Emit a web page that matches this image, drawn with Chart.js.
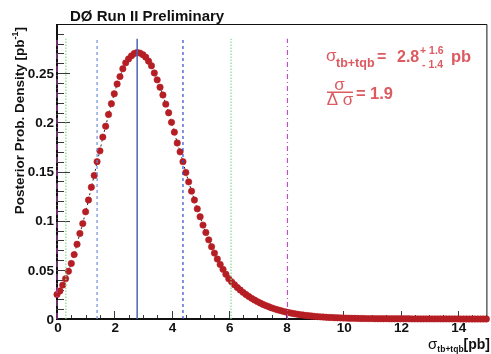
<!DOCTYPE html>
<html>
<head>
<meta charset="utf-8">
<script src="https://cdn.jsdelivr.net/npm/chart.js@4/dist/chart.umd.min.js"></script>
<style>
  html, body { margin: 0; padding: 0; background: #fff; }
  #wrap { width: 491px; height: 354px; position: relative; }
</style>
</head>
<body>
<div id="wrap"><canvas id="posterior" width="491" height="354"></canvas></div>
<script>
// cross section grid [pb]
const sigmaValues = [
    0.0, 0.1, 0.2, 0.3, 0.4, 0.5, 0.6, 0.7, 0.8, 0.9,
    1.0, 1.1, 1.2, 1.3, 1.4, 1.5, 1.6, 1.7, 1.8, 1.9,
    2.0, 2.1, 2.2, 2.3, 2.4, 2.5, 2.6, 2.7, 2.8, 2.9,
    3.0, 3.1, 3.2, 3.3, 3.4, 3.5, 3.6, 3.7, 3.8, 3.9,
    4.0, 4.1, 4.2, 4.3, 4.4, 4.5, 4.6, 4.7, 4.8, 4.9,
    5.0, 5.1, 5.2, 5.3, 5.4, 5.5, 5.6, 5.7, 5.8, 5.9,
    6.0, 6.1, 6.2, 6.3, 6.4, 6.5, 6.6, 6.7, 6.8, 6.9,
    7.0, 7.1, 7.2, 7.3, 7.4, 7.5, 7.6, 7.7, 7.8, 7.9,
    8.0, 8.1, 8.2, 8.3, 8.4, 8.5, 8.6, 8.7, 8.8, 8.9,
    9.0, 9.1, 9.2, 9.3, 9.4, 9.5, 9.6, 9.7, 9.8, 9.9,
    10.0, 10.1, 10.2, 10.3, 10.4, 10.5, 10.6, 10.7, 10.8, 10.9,
    11.0, 11.1, 11.2, 11.3, 11.4, 11.5, 11.6, 11.7, 11.8, 11.9,
    12.0, 12.1, 12.2, 12.3, 12.4, 12.5, 12.6, 12.7, 12.8, 12.9,
    13.0, 13.1, 13.2, 13.3, 13.4, 13.5, 13.6, 13.7, 13.8, 13.9,
    14.0, 14.1, 14.2, 14.3, 14.4, 14.5, 14.6, 14.7, 14.8, 14.9,
    15.0
];

// posterior probability density [pb^-1]
const densityValues = [
    0.0250, 0.0285, 0.0345, 0.0410, 0.0485, 0.0565, 0.0655, 0.0760, 0.0870, 0.0970,
    0.1090, 0.1210, 0.1340, 0.1460, 0.1600, 0.1710, 0.1850, 0.1960, 0.2080, 0.2190,
    0.2290, 0.2390, 0.2465, 0.2545, 0.2605, 0.2645, 0.2676, 0.2700, 0.2710, 0.2704,
    0.2688, 0.2663, 0.2622, 0.2575, 0.2502, 0.2432, 0.2357, 0.2278, 0.2185, 0.2097,
    0.2000, 0.1900, 0.1790, 0.1700, 0.1600, 0.1490, 0.1395, 0.1300, 0.1210, 0.1120,
    0.1040, 0.0955, 0.0880, 0.0805, 0.0735, 0.0670, 0.0610, 0.0555, 0.0505, 0.0455,
    0.0410, 0.0378, 0.0348, 0.0320, 0.0295, 0.0271, 0.0249, 0.0229, 0.0210, 0.0193,
    0.0177, 0.0162, 0.0148, 0.0136, 0.0124, 0.0113, 0.0103, 0.0094, 0.0086, 0.0078,
    0.0071, 0.0065, 0.0059, 0.0053, 0.0048, 0.0044, 0.0040, 0.0036, 0.0033, 0.0030,
    0.0027, 0.0024, 0.0022, 0.0020, 0.0018, 0.0016, 0.0015, 0.0013, 0.0012, 0.0011,
    0.0010, 0.0009, 0.0008, 0.0007, 0.0007, 0.0006, 0.0005, 0.0005, 0.0004, 0.0004,
    0.0004, 0.0003, 0.0003, 0.0003, 0.0003, 0.0003, 0.0002, 0.0002, 0.0002, 0.0002,
    0.0002, 0.0002, 0.0002, 0.0002, 0.0001, 0.0001, 0.0001, 0.0001, 0.0001, 0.0001,
    0.0001, 0.0001, 0.0001, 0.0001, 0.0001, 0.0001, 0.0001, 0.0001, 0.0001, 0.0001,
    0.0001, 0.0000, 0.0000, 0.0000, 0.0000, 0.0000, 0.0000, 0.0000, 0.0000, 0.0000,
    0.0000
];

// tick labels
const xTicks = [0, 2, 4, 6, 8, 10, 12, 14];
const yTicks = [0, 0.05, 0.1, 0.15, 0.2, 0.25];

// result: peak and 68% interval, 95% interval edges, 95% upper limit
const sigmaPeak = 2.8;
const sigmaErrUp = 1.6;
const sigmaErrDown = 1.4;
const interval95 = [0.31, 6.08];
const upperLimit95 = 8.05;
const significance = 1.9;
const lineTop = 0.285;

const FONT = "'Liberation Sans', Arial, Helvetica, sans-serif";
const RED_TEXT = '#dc5a60';

function vline(x, color, width, dash) {
    return {
        type: 'line',
        data: [{ x: x, y: 0 }, { x: x, y: lineTop }],
        borderColor: color,
        borderWidth: width,
        borderDash: dash,
        pointRadius: 0,
        fill: false,
        order: 0,
        clip: false
    };
}

// ROOT-like frame, inward ticks and the text labels
const rootStyle = {
    id: 'rootStyle',
    beforeDatasetsDraw(chart) {
        const ctx = chart.ctx;
        const area = chart.chartArea;
        const xs = chart.scales.x;
        const ys = chart.scales.y;
        ctx.save();
        ctx.strokeStyle = '#3a3a3a';
        ctx.lineWidth = 1;
        // y ticks: major every 0.05, minor every 0.01
        for (let i = 0; i <= 30; i++) {
            const py = Math.round(ys.getPixelForValue(i / 100)) + 0.5;
            const len = i % 5 === 0 ? 13 : 7;
            ctx.beginPath();
            ctx.moveTo(area.left, py);
            ctx.lineTo(area.left + len, py);
            ctx.stroke();
        }
        // x ticks: major every 2, minor every 0.5
        for (let i = 0; i <= 30; i++) {
            const px = Math.round(xs.getPixelForValue(i / 2)) + 0.5;
            const len = i % 4 === 0 ? 8 : 4;
            ctx.beginPath();
            ctx.moveTo(px, area.bottom);
            ctx.lineTo(px, area.bottom - len);
            ctx.stroke();
        }
        // frame
        ctx.strokeStyle = '#111';
        ctx.lineWidth = 1;
        ctx.beginPath();
        ctx.moveTo(area.left, area.top + 0.5);
        ctx.lineTo(area.right + 0.5, area.top + 0.5);
        ctx.lineTo(area.right + 0.5, area.bottom);
        ctx.stroke();
        ctx.lineWidth = 2;
        ctx.beginPath();
        ctx.moveTo(area.left, area.top);
        ctx.lineTo(area.left, area.bottom);
        ctx.lineTo(area.right + 1, area.bottom);
        ctx.stroke();
        ctx.restore();
    },
    afterDraw(chart) {
        const ctx = chart.ctx;
        const area = chart.chartArea;
        const xs = chart.scales.x;
        const ys = chart.scales.y;
        ctx.save();
        ctx.fillStyle = '#111';

        // tick labels
        ctx.font = 'bold 13.5px ' + FONT;
        ctx.textAlign = 'right';
        ctx.textBaseline = 'middle';
        yTicks.forEach(v => {
            ctx.fillText(String(v), area.left - 3, ys.getPixelForValue(v) + 1);
        });
        ctx.textAlign = 'center';
        ctx.textBaseline = 'top';
        xTicks.forEach(v => {
            ctx.fillText(String(v), xs.getPixelForValue(v) + 1, area.bottom + 3);
        });

        // title
        ctx.textAlign = 'left';
        ctx.textBaseline = 'alphabetic';
        ctx.font = 'bold 15px ' + FONT;
        ctx.fillText('D\u00d8 Run II Preliminary', 70, 21);

        // y axis title, right aligned at the top of the axis
        ctx.save();
        ctx.translate(23.5, 27);
        ctx.rotate(-Math.PI / 2);
        const bigY = 'bold 13.5px ' + FONT;
        const supY = 'bold 9px ' + FONT;
        ctx.font = bigY;
        const partA = 'Posterior Prob. Density [pb';
        const wA = ctx.measureText(partA).width;
        const wC = ctx.measureText(']').width;
        ctx.font = supY;
        const wB = ctx.measureText('-1').width;
        let cx = -(wA + wB + wC);
        ctx.font = bigY;
        ctx.fillText(partA, cx, 0);
        cx += wA;
        ctx.font = supY;
        ctx.fillText('-1', cx, -6);
        cx += wB;
        ctx.font = bigY;
        ctx.fillText(']', cx, 0);
        ctx.restore();

        // x axis title, right aligned at the end of the axis
        const sig = '15px ' + FONT;
        const sub = 'bold 8.5px ' + FONT;
        const big = 'bold 14px ' + FONT;
        ctx.font = big;
        const wPb = ctx.measureText('[pb]').width;
        ctx.font = sub;
        const wSub = ctx.measureText('tb+tqb').width;
        ctx.font = sig;
        const wSig = ctx.measureText('\u03c3').width;
        let tx = 490 - wPb - wSub - wSig;
        ctx.fillText('\u03c3', tx, 349);
        tx += wSig;
        ctx.font = sub;
        ctx.fillText('tb+tqb', tx, 352);
        tx += wSub;
        ctx.font = big;
        ctx.fillText('[pb]', tx, 349);

        // result text
        ctx.fillStyle = RED_TEXT;
        ctx.font = '17px ' + FONT;
        ctx.fillText('\u03c3', 326, 61);
        ctx.font = 'bold 12.5px ' + FONT;
        ctx.fillText('tb+tqb', 336, 67);
        ctx.font = 'bold 16px ' + FONT;
        ctx.fillText('=', 377, 62);
        ctx.fillText(sigmaPeak.toFixed(1), 397, 62);
        ctx.font = 'bold 10.5px ' + FONT;
        ctx.fillText('+ ' + sigmaErrUp.toFixed(1), 420, 54);
        ctx.fillText('- ' + sigmaErrDown.toFixed(1), 422, 68);
        ctx.font = 'bold 16.5px ' + FONT;
        ctx.fillText('pb', 451, 62);

        // sigma / delta sigma
        ctx.font = '17px ' + FONT;
        ctx.textAlign = 'center';
        ctx.fillText('\u03c3', 339.5, 90);
        ctx.fillText('\u0394 \u03c3', 340, 105);
        ctx.fillRect(327, 91.5, 26, 1.5);
        ctx.textAlign = 'left';
        ctx.font = 'bold 16.5px ' + FONT;
        ctx.fillText('=', 356, 98.5);
        ctx.fillText(significance.toFixed(1), 370, 98.5);

        ctx.restore();
    }
};

const points = sigmaValues.map((s, i) => ({ x: s, y: densityValues[i] }));

new Chart(document.getElementById('posterior'), {
    type: 'scatter',
    data: {
        datasets: [
            vline(0, '#c04ec4', 1, [6, 3, 1, 3]),
            vline(interval95[0], '#86d98a', 1.2, [1.5, 1.5]),
            vline(interval95[1], '#86d98a', 1.2, [1.5, 1.5]),
            vline(sigmaPeak - sigmaErrDown, '#6e8ed6', 1.2, [3, 3]),
            vline(sigmaPeak + sigmaErrUp, '#2d4cc0', 1.2, [3, 3]),
            vline(sigmaPeak, '#4d64b8', 1.5, []),
            vline(upperLimit95, '#c04ec4', 1.2, [5, 3, 1, 3]),
            {
                type: 'line',
                data: points,
                showLine: true,
                borderColor: '#222',
                borderWidth: 1,
                borderDash: [2, 3],
                pointRadius: 3.2,
                pointBackgroundColor: '#b51e24',
                pointBorderColor: '#b51e24',
                pointBorderWidth: 0.6,
                fill: false,
                order: 1,
                clip: 8
            }
        ]
    },
    options: {
        responsive: false,
        animation: false,
        devicePixelRatio: 1,
        layout: { padding: { top: 24, right: 3, left: 0, bottom: 0 } },
        plugins: {
            legend: { display: false },
            tooltip: { enabled: false },
            title: { display: false }
        },
        scales: {
            x: {
                type: 'linear',
                min: 0,
                max: 15,
                grid: { display: false },
                border: { display: false },
                ticks: { display: false },
                afterFit(scale) { scale.height = 35; }
            },
            y: {
                type: 'linear',
                min: 0,
                max: 0.3,
                grid: { display: false },
                border: { display: false },
                ticks: { display: false },
                afterFit(scale) { scale.width = 57; }
            }
        }
    },
    plugins: [rootStyle]
});
</script>
</body>
</html>
